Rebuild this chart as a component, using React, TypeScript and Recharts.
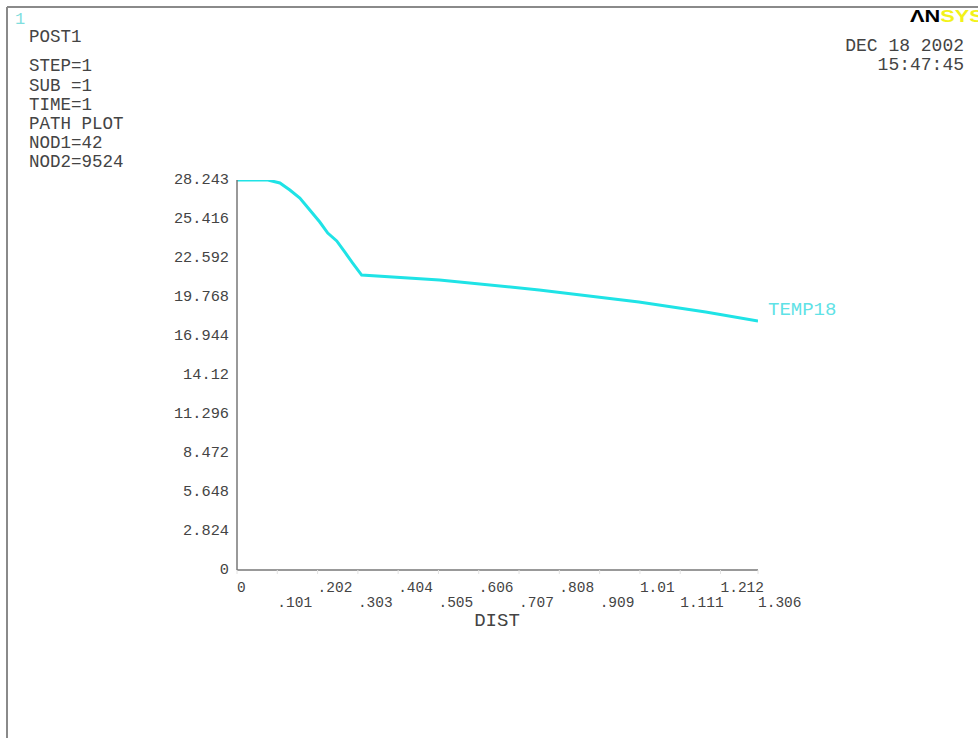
import React from "react";
import { LineChart, Line, XAxis, YAxis, LabelList } from "recharts";

const dist = [0, 0.0775, 0.1075, 0.1325, 0.1575, 0.1825, 0.2075, 0.2275, 0.25, 0.27, 0.29, 0.3125, 0.5075, 0.7575, 1.0075, 1.175, 1.306];
const temp = [28.243, 28.243, 28.03, 27.52, 26.94, 26.07, 25.2, 24.4, 23.83, 23.03, 22.23, 21.36, 21.0, 20.28, 19.41, 18.68, 18.03];
const yTicks = [0, 2.824, 5.648, 8.472, 11.296, 14.12, 16.944, 19.768, 22.592, 25.416, 28.243];
const xTicks = [0, 0.101, 0.202, 0.303, 0.404, 0.505, 0.606, 0.707, 0.808, 0.909, 1.01, 1.111, 1.212, 1.306];
const infoLines = ["POST1", "STEP=1", "SUB =1", "TIME=1", "PATH PLOT", "NOD1=42", "NOD2=9524"];
const infoBaselines = [42, 71, 91, 110, 129, 148, 167];
const dateLines = ["DEC 18 2002", "15:47:45"];
const seriesName = "TEMP18";

const data = dist.map((d, i) => ({ dist: d, temp: temp[i] }));

const MONO = "'Courier New', 'Liberation Mono', 'DejaVu Sans Mono', monospace";
const TXT = "#444";
const CYAN = "#1fe3e6";

const fmt = (v: number) => {
  if (v === 0) return "0";
  const s = String(v);
  return s.startsWith("0.") ? s.slice(1) : s;
};

const XTick = (props: any) => {
  const { x, y, payload, index } = props;
  const dy = index % 2 === 0 ? 18 : 33;
  return (
    <text x={x} y={y + dy} textAnchor="start" fontFamily={MONO} fontSize={14.5} fill={TXT}>
      {fmt(payload.value)}
    </text>
  );
};

const YTick = (props: any) => {
  const { x, y, payload } = props;
  return (
    <text x={x} y={y + 4} textAnchor="end" fontFamily={MONO} fontSize={15.3} fill={TXT}>
      {String(payload.value)}
    </text>
  );
};

const EndLabel = (props: any) => {
  const { x, y, index } = props;
  if (index !== data.length - 1) return null;
  return (
    <text x={x + 10} y={y - 6} fontFamily={MONO} fontSize={19} fill="#5fe2e6">
      {seriesName}
    </text>
  );
};

export default function App() {
  return (
    <div style={{ position: "absolute", left: 0, top: 0, width: 978, height: 738, overflow: "hidden", background: "#fff" }}>
      <svg width={978} height={738} style={{ position: "absolute", left: 0, top: 0 }}>
        <line x1={7} y1={7} x2={978} y2={7} stroke="#8a8a8a" strokeWidth={2} />
        <line x1={7} y1={7} x2={7} y2={738} stroke="#8a8a8a" strokeWidth={2} />
        <text x={15} y={24} fontFamily={MONO} fontSize={17} fill="#7fdede">1</text>
        {infoLines.map((t, i) => (
          <text key={t} x={29} y={infoBaselines[i]} fontFamily={MONO} fontSize={17.5} fill={TXT} xmlSpace="preserve" style={{ whiteSpace: "pre" }}>
            {t}
          </text>
        ))}
        {dateLines.map((t, i) => (
          <text key={t} x={964} y={51 + i * 19} textAnchor="end" fontFamily={MONO} fontSize={18} fill={TXT}>
            {t}
          </text>
        ))}
        <text transform="translate(910,22) scale(1.28,1)" x={0} y={0} fontFamily="'Liberation Sans', Arial, sans-serif" fontWeight="bold" fontSize={17}>
          <tspan fill="#000">ΛN</tspan>
          <tspan fill="#f2f21a">SYS</tspan>
        </text>
        <text x={497} y={626} textAnchor="middle" fontFamily={MONO} fontSize={19} fill={TXT}>DIST</text>
      </svg>
      <div style={{ position: "absolute", left: 0, top: 0 }}>
        <LineChart width={978} height={738} data={data} margin={{ top: 180, right: 220, bottom: 128, left: 177 }}>
          <XAxis
            dataKey="dist"
            type="number"
            domain={[0, 1.306]}
            ticks={xTicks}
            interval={0}
            height={40}
            axisLine={{ stroke: "#777", strokeWidth: 1.5 }}
            tickLine={{ stroke: "#e2e2e2" }}
            tickSize={4}
            tickMargin={0}
            tick={<XTick />}
            allowDataOverflow
          />
          <YAxis
            type="number"
            domain={[0, 28.243]}
            ticks={yTicks}
            interval={0}
            width={60}
            axisLine={{ stroke: "#777", strokeWidth: 1.5 }}
            tickLine={false}
            tickSize={0}
            tickMargin={8}
            tick={<YTick />}
            allowDataOverflow
          />
          <Line
            type="linear"
            dataKey="temp"
            stroke={CYAN}
            strokeWidth={3}
            dot={false}
            isAnimationActive={false}
          >
            <LabelList dataKey="temp" content={<EndLabel />} />
          </Line>
        </LineChart>
      </div>
    </div>
  );
}
